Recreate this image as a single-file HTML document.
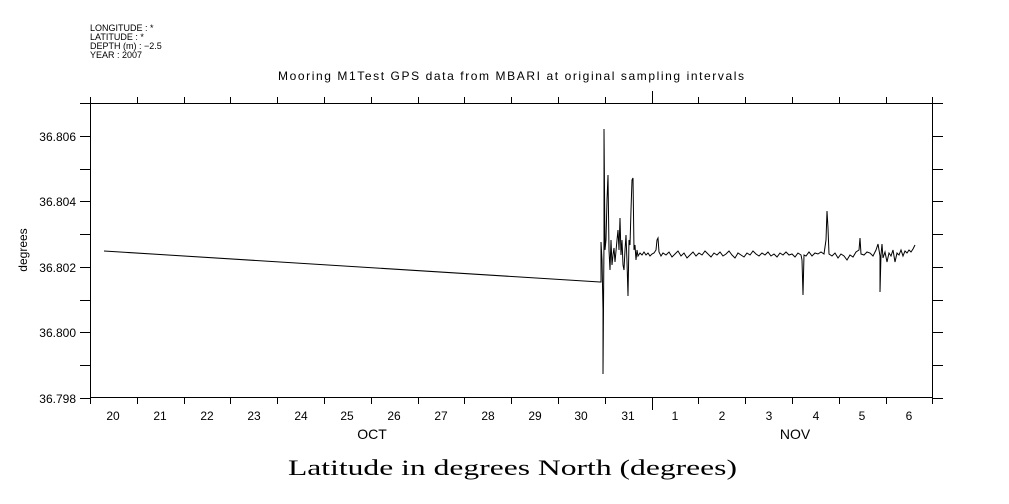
<!DOCTYPE html>
<html><head><meta charset="utf-8"><style>
html,body{margin:0;padding:0;background:#fff;}
svg{display:block;}
text{font-family:"Liberation Sans",sans-serif;fill:#000;}
</style></head><body>
<svg width="1009" height="504" viewBox="0 0 1009 504" xmlns="http://www.w3.org/2000/svg">
<g font-size="9">
<text x="90" y="31">LONGITUDE : *</text>
<text x="90" y="40">LATITUDE : *</text>
<text x="90" y="49">DEPTH (m) : −2.5</text>
<text x="90" y="58">YEAR : 2007</text>
</g>
<text x="511" y="80" font-size="12" text-anchor="middle" textLength="466">Mooring M1Test GPS data from MBARI at original sampling intervals</text>
<g stroke="#000" stroke-width="1" fill="none" shape-rendering="crispEdges">
<rect x="90.5" y="103.5" width="842" height="294"/>
<path d="M80 103.5H90M80 136.5H90M80 169.5H90M80 201.5H90M80 234.5H90M80 267.5H90M80 300.5H90M80 332.5H90M80 365.5H90M80 398.5H90"/>
<path d="M933 103.5H943M933 136.5H943M933 169.5H943M933 201.5H943M933 234.5H943M933 267.5H943M933 300.5H943M933 332.5H943M933 365.5H943M933 398.5H943"/>
<path d="M90.5 398V404M137.5 398V404M184.5 398V404M230.5 398V404M277.5 398V404M324.5 398V404M371.5 398V404M418.5 398V404M464.5 398V404M511.5 398V404M558.5 398V404M605.5 398V404M652.5 398V410M698.5 398V404M745.5 398V404M792.5 398V404M839.5 398V404M886.5 398V404M932.5 398V404"/>
<path d="M90.5 103V97M137.5 103V97M184.5 103V97M230.5 103V97M277.5 103V97M324.5 103V97M371.5 103V97M418.5 103V97M464.5 103V97M511.5 103V97M558.5 103V97M605.5 103V97M652.5 103V91M698.5 103V97M745.5 103V97M792.5 103V97M839.5 103V97M886.5 103V97M932.5 103V97"/>
</g>
<g font-size="12" text-anchor="end">
<text x="76" y="141">36.806</text>
<text x="76" y="206">36.804</text>
<text x="76" y="272">36.802</text>
<text x="76" y="337">36.800</text>
<text x="76" y="403">36.798</text>
</g>
<text transform="translate(27,250) rotate(-90)" font-size="12" text-anchor="middle">degrees</text>
<g font-size="12" text-anchor="middle">
<text x="113" y="420">20</text><text x="160" y="420">21</text><text x="207" y="420">22</text><text x="254" y="420">23</text><text x="301" y="420">24</text><text x="347" y="420">25</text><text x="394" y="420">26</text><text x="441" y="420">27</text><text x="488" y="420">28</text><text x="535" y="420">29</text><text x="581" y="420">30</text><text x="628" y="420">31</text><text x="675" y="420">1</text><text x="722" y="420">2</text><text x="769" y="420">3</text><text x="816" y="420">4</text><text x="862" y="420">5</text><text x="909" y="420">6</text>
<text x="372" y="439" font-size="14">OCT</text>
<text x="795" y="439" font-size="14">NOV</text>
</g>
<text x="288" y="475" font-size="22" textLength="449" lengthAdjust="spacingAndGlyphs" style="font-family:'Liberation Serif',serif">Latitude in degrees North (degrees)</text>
<polyline fill="none" stroke="#000" stroke-width="1" points="104,251 600,282 601,282 601,242 602,260 603,310 603,374 604,240 604,129 605,250 606,240 607,200 608,175 609,250 610,270 611,240 612,265 613,255 614,248 615,262 617,240 618,230 619,250 620,218 621,255 622,240 623,265 624,270 625,250 626,235 627,262 628,296 629,240 630,245 631,210 632,180 633,178 634,250 635,245 636,260 637,250 638,256 640,253 642,255 644,252 646,255 648,253 650,256 652,254 654,253 656,250 657,240 658,238 659,252 661,256 663,253 666,255 669,252 672,257 675,254 678,251 681,256 684,253 687,258 690,255 693,252 696,256 699,253 702,255 705,251 708,254 711,257 714,253 717,255 720,252 723,256 726,254 729,251 732,255 735,258 738,253 741,255 744,257 747,253 750,255 753,251 756,254 759,256 762,253 765,255 768,252 771,256 774,254 777,257 780,253 783,255 786,252 789,255 792,254 795,257 798,253 801,255 802,260 803,295 804,255 806,256 809,252 812,256 815,253 818,254 821,252 824,254 826,240 827,211 828,228 829,254 832,256 835,253 838,258 841,254 844,256 847,260 850,255 853,257 856,252 859,250 860,238 861,254 864,255 867,252 870,253 873,256 876,250 878,244 880,256 880,292 881,255 882,244 883,258 885,252 887,262 889,253 891,256 893,250 895,262 897,253 899,255 901,250 903,256 905,251 907,253 909,250 911,252 913,249 915,245"/>
</svg>
</body></html>
